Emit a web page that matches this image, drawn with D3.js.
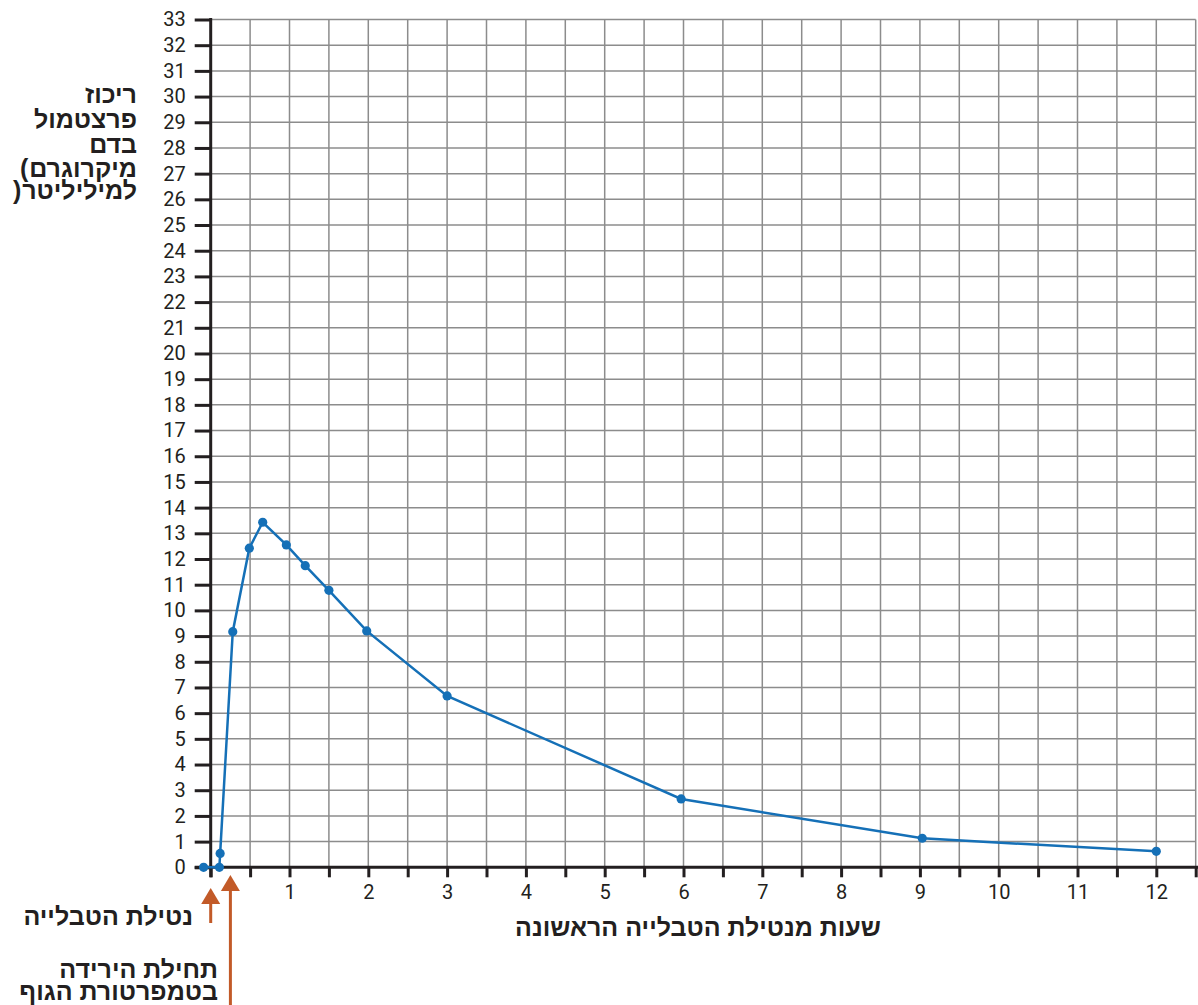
<!DOCTYPE html>
<html>
<head>
<meta charset="utf-8">
<script src="https://cdn.jsdelivr.net/npm/d3@7"></script>
<style>
  body { margin: 0; background: #fff; }
  svg { display: block; }
</style>
</head>
<body>
<div id="chart"></div>
<script>

// hours since first tablet / concentration (micrograms per ml)
var hours = [-0.09, 0.11, 0.12, 0.28, 0.49, 0.66, 0.96, 1.2, 1.5, 1.98, 3, 5.97, 9.03, 12];
var conc = [0, 0, 0.54, 9.17, 12.42, 13.43, 12.55, 11.74, 10.78, 9.2, 6.67, 2.66, 1.13, 0.62];

var xTicks = [1, 2, 3, 4, 5, 6, 7, 8, 9, 10, 11, 12];
var yTicks = d3.range(0, 34);

// brackets drawn separately, on the left of the word like in the print
var yTitle = ["ריכוז", "פרצטמול", "בדם", "מיקרוגרם", "למיליליטר"];
var yTitleBracket = ["", "", "", "(", ")"];
var xTitle = "שעות מנטילת הטבלייה הראשונה";

// arrows under the axis
var arrowAt = [0, 0.25];
var arrowLabels = [["נטילת הטבלייה"], ["תחילת הירידה", "בטמפרטורת הגוף"]];

var w = 1198, h = 1005;
var ink = "#231f20", blue = "#1570b7", rust = "#c25a28", gridCol = "#8c8c8c";
var hebFont = "'Liberation Sans', Arial, sans-serif";
var hebSize = '25px';

var svg = d3.select('#chart').append('svg')
  .attr('width', w)
  .attr('height', h);

var x = d3.scaleLinear().domain([0, 12.5]).range([210.7, 1195.7]);
var y = d3.scaleLinear().domain([0, 33]).range([867.3, 19.5]);

// grid
svg.append('g').selectAll('line')
  .data(d3.range(1, 26).map(function(d) { return d / 2; }))
  .enter().append('line')
  .attr('x1', function(d) { return x(d); })
  .attr('x2', function(d) { return x(d); })
  .attr('y1', y(33))
  .attr('y2', y(0))
  .style('stroke', gridCol)
  .style('stroke-width', 1.5);

svg.append('g').selectAll('line')
  .data(yTicks.slice(1))
  .enter().append('line')
  .attr('x1', x(0))
  .attr('x2', x(12.5))
  .attr('y1', function(d) { return y(d); })
  .attr('y2', function(d) { return y(d); })
  .style('stroke', gridCol)
  .style('stroke-width', 1.5);

// y axis
var yAxis = d3.axisLeft(y)
  .tickValues(yTicks)
  .tickSize(16)
  .tickPadding(9)
  .tickSizeOuter(0);

var gy = svg.append('g')
  .attr('transform', 'translate(' + x(0) + ',0)')
  .call(yAxis);
gy.select('.domain').remove();
gy.selectAll('.tick line').style('stroke', ink).style('stroke-width', 3);
gy.selectAll('.tick text')
  .style('font-family', 'Roboto, sans-serif')
  .style('font-size', '20px')
  .style('fill', ink);

// x axis, ticks every half hour
var xAxis = d3.axisBottom(x)
  .tickValues(d3.range(0, 26).map(function(d) { return d / 2; }))
  .tickSize(10)
  .tickPadding(8)
  .tickFormat(function(d) { return xTicks.indexOf(d) >= 0 ? d : ''; })
  .tickSizeOuter(0);

var gx = svg.append('g')
  .attr('transform', 'translate(0,' + y(0) + ')')
  .call(xAxis);
gx.select('.domain').remove();
gx.selectAll('.tick line').style('stroke', ink).style('stroke-width', 3);
gx.selectAll('.tick text')
  .style('font-family', 'Roboto, sans-serif')
  .style('font-size', '20px')
  .style('fill', ink);

// axis lines on top of the ticks
svg.append('line')
  .attr('x1', x(0)).attr('x2', x(0))
  .attr('y1', y(33) - 1.5).attr('y2', y(0) + 10)
  .style('stroke', ink).style('stroke-width', 3);
svg.append('line')
  .attr('x1', x(0) - 16).attr('x2', w)
  .attr('y1', y(0)).attr('y2', y(0))
  .style('stroke', ink).style('stroke-width', 3);

// data line
var pts = hours.map(function(d, i) { return [d, conc[i]]; });

svg.append('path')
  .datum(pts)
  .attr('d', d3.line()
    .x(function(d) { return x(d[0]); })
    .y(function(d) { return y(d[1]); }))
  .style('fill', 'none')
  .style('stroke', blue)
  .style('stroke-width', 2.5);

svg.append('g').selectAll('circle')
  .data(pts)
  .enter().append('circle')
  .attr('cx', function(d) { return x(d[0]); })
  .attr('cy', function(d) { return y(d[1]); })
  .attr('r', 4.6)
  .style('fill', blue);

// y title, one text per line
var titleY = [103, 128, 153, 177, 199];
yTitle.forEach(function(t, i) {
  var word = svg.append('text')
    .attr('x', 137)
    .attr('y', titleY[i])
    .attr('text-anchor', 'end')
    .style('font-family', hebFont)
    .style('font-weight', 'bold')
    .style('font-size', hebSize)
    .style('fill', ink)
    .text(t);
  if (yTitleBracket[i]) {
    var len = word.node().getComputedTextLength();
    svg.append('text')
      .attr('x', 137 - len - 1)
      .attr('y', titleY[i])
      .attr('text-anchor', 'end')
      .style('font-family', hebFont)
      .style('font-weight', 'bold')
      .style('font-size', hebSize)
      .style('fill', ink)
      .text(yTitleBracket[i]);
  }
});

svg.append('text')
  .attr('x', 698)
  .attr('y', 936)
  .attr('text-anchor', 'middle')
  .style('font-family', hebFont)
  .style('font-weight', 'bold')
  .style('font-size', hebSize)
  .style('fill', ink)
  .text(xTitle);

// arrows
var tips = [888, 875], tails = [923, 1006];
var labelRight = [193, 218];
var labelBase = [[925], [978, 1000]];

arrowAt.forEach(function(a, i) {
  var ax = x(a);
  svg.append('line')
    .attr('x1', ax).attr('x2', ax)
    .attr('y1', tips[i] + 8).attr('y2', tails[i])
    .style('stroke', rust).style('stroke-width', 3);
  svg.append('path')
    .attr('d', 'M' + ax + ',' + tips[i] + 'L' + (ax + 9.5) + ',' + (tips[i] + 16) +
      'L' + (ax - 9.5) + ',' + (tips[i] + 16) + 'Z')
    .style('fill', rust);

  arrowLabels[i].forEach(function(t, j) {
    svg.append('text')
      .attr('x', labelRight[i])
      .attr('y', labelBase[i][j])
      .attr('text-anchor', 'end')
      .style('font-family', hebFont)
      .style('font-weight', 'bold')
      .style('font-size', hebSize)
      .style('fill', ink)
      .text(t);
  });
});

</script>
</body>
</html>
